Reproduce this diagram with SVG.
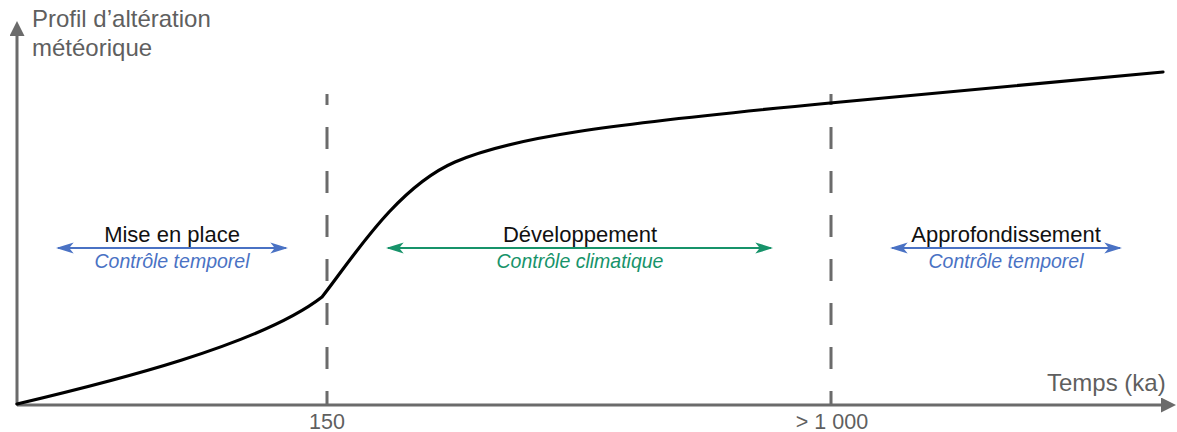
<svg xmlns="http://www.w3.org/2000/svg" width="1177" height="432" viewBox="0 0 1177 432">
<defs>
<style>
.axis{stroke:#6b6b6b;stroke-width:3;fill:none}
.dash{stroke:#6b6b6b;stroke-width:3;fill:none;stroke-dasharray:22 22;stroke-dashoffset:11}
.curve{stroke:#000;stroke-width:3.2;fill:none;stroke-linecap:round}
.ax{font-family:"Liberation Sans",Arial,sans-serif;font-size:24px;fill:#5f5f5f}
.tick{font-family:"Liberation Sans",Arial,sans-serif;font-size:21.5px;fill:#5f5f5f;text-anchor:middle}
.lbl{font-family:"Liberation Sans",Arial,sans-serif;font-size:22px;fill:#111;text-anchor:middle}
.sub{font-family:"Liberation Sans",Arial,sans-serif;font-size:19.5px;font-style:italic;text-anchor:middle}
.blue{stroke:#4a72c4;stroke-width:2;fill:none}
.green{stroke:#17936a;stroke-width:2;fill:none}
</style>
<marker id="axhead" viewBox="0 0 10 10" refX="2" refY="5" markerWidth="7" markerHeight="5" markerUnits="strokeWidth" orient="auto">
<path d="M0,0 L10,5 L0,10 z" fill="#6b6b6b"/>
</marker>
<marker id="bh" viewBox="0 0 16 10" refX="14" refY="5" markerWidth="9" markerHeight="5.6" markerUnits="strokeWidth" orient="auto-start-reverse">
<path d="M0,0 L16,5 L0,10 L4,5 z" fill="#4a72c4"/>
</marker>
<marker id="gh" viewBox="0 0 16 10" refX="14" refY="5" markerWidth="9" markerHeight="5.6" markerUnits="strokeWidth" orient="auto-start-reverse">
<path d="M0,0 L16,5 L0,10 L4,5 z" fill="#17936a"/>
</marker>
</defs>
<rect width="1177" height="432" fill="#fff"/>
<g id="axes">
<line class="axis" x1="17" y1="405" x2="17" y2="33" marker-end="url(#axhead)"/>
<line class="axis" x1="17" y1="405" x2="1164" y2="405" marker-end="url(#axhead)"/>
<text class="ax" x="32" y="27">Profil d’altération</text>
<text class="ax" x="32" y="56">météorique</text>
<text class="ax" x="1047" y="391">Temps (ka)</text>
<text class="tick" x="327" y="429">150</text>
<text class="tick" x="832" y="429">&gt; 1 000</text>
</g>
<g id="dividers">
<line class="dash" x1="327" y1="94" x2="327" y2="405"/>
<line class="dash" x1="831" y1="94" x2="831" y2="405"/>
</g>
<g id="curve">
<path class="curve" d="M17,404 C110,382 260,345 322,297 C350,262 395,188 455,162 C510,138 600,125 830,103 L1163,72"/>
</g>
<g id="connectors">
<line class="blue" x1="58" y1="248" x2="286" y2="248" marker-start="url(#bh)" marker-end="url(#bh)"/>
<line class="green" x1="388" y1="248" x2="771" y2="248" marker-start="url(#gh)" marker-end="url(#gh)"/>
<line class="blue" x1="892" y1="248" x2="1120" y2="248" marker-start="url(#bh)" marker-end="url(#bh)"/>
</g>
<g id="phase1">
<text class="lbl" x="172" y="242">Mise en place</text>
<text class="sub" x="172" y="268" fill="#4a72c4">Contrôle temporel</text>
</g>
<g id="phase2">
<text class="lbl" x="580" y="242">Développement</text>
<text class="sub" x="580" y="268" fill="#17936a">Contrôle climatique</text>
</g>
<g id="phase3">
<text class="lbl" x="1006" y="242">Approfondissement</text>
<text class="sub" x="1006" y="268" fill="#4a72c4">Contrôle temporel</text>
</g>
</svg>
